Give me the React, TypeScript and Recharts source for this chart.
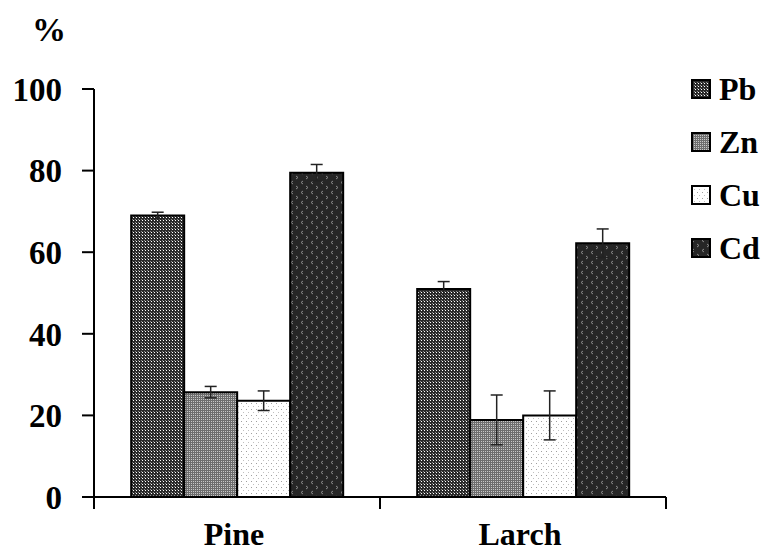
import React from 'react';
import { BarChart, Bar, XAxis, YAxis, ErrorBar } from 'recharts';

const categories = ['Pine', 'Larch'];
const metals = ['Pb', 'Zn', 'Cu', 'Cd'];
const pbValues = [69, 51];
const pbErrors = [0.8, 1.8];
const znValues = [25.7, 18.9];
const znErrors = [1.4, 6.1];
const cuValues = [23.6, 20];
const cuErrors = [2.4, 6];
const cdValues = [79.5, 62.2];
const cdErrors = [2, 3.5];
const yTicks = [0, 20, 40, 60, 80, 100];

const data = categories.map((c, i) => ({
  category: c,
  Pb: pbValues[i],
  PbErr: pbErrors[i],
  Zn: znValues[i],
  ZnErr: znErrors[i],
  Cu: cuValues[i],
  CuErr: cuErrors[i],
  Cd: cdValues[i],
  CdErr: cdErrors[i],
}));

const FONT = '"Liberation Serif", "Times New Roman", serif';

const XTick = (props: any) => {
  const { x, y, payload } = props;
  const half = payload && typeof payload.offset === 'number' ? payload.offset : 143;
  return (
    <g>
      <line x1={x - half} x2={x - half} y1={y} y2={y + 12} stroke="#000" strokeWidth={2} />
      <line x1={x + half} x2={x + half} y1={y} y2={y + 12} stroke="#000" strokeWidth={2} />
      <text
        x={x - 3}
        y={y + 48}
        textAnchor="middle"
        fontFamily={FONT}
        fontWeight="bold"
        fontSize={32}
        fill="#000"
      >
        {payload.value}
      </text>
    </g>
  );
};

const Patterns = () => (
  <defs>
    <pattern id="pat-Pb" width="3" height="3" patternUnits="userSpaceOnUse">
      <rect width="3" height="3" fill="#2a2a2a" />
      <rect x="1" y="1" width="1" height="1" fill="#ffffff" />
      <rect x="0" y="0" width="1" height="1" fill="#8a8a8a" />
    </pattern>
    <pattern id="pat-Zn" width="2" height="2" patternUnits="userSpaceOnUse">
      <rect width="2" height="2" fill="#6e6e6e" />
      <rect x="1" y="1" width="1" height="1" fill="#c8c8c8" />
    </pattern>
    <pattern id="pat-Cu" width="5" height="6" patternUnits="userSpaceOnUse">
      <rect width="5" height="6" fill="#ffffff" />
      <rect x="1" y="1" width="1" height="1" fill="#a0a0a0" />
      <rect x="3" y="4" width="1" height="1" fill="#c0c0c0" />
    </pattern>
    <pattern id="pat-Cd" width="10" height="10" patternUnits="userSpaceOnUse">
      <rect width="10" height="10" fill="#262626" />
      <path d="M3 1 L1 2.5 L3 4" stroke="#8a8a8a" strokeWidth="1" fill="none" />
      <path d="M6 6 L8 7.5 L6 9" stroke="#8a8a8a" strokeWidth="1" fill="none" />
    </pattern>
  </defs>
);

export default function App() {
  return (
    <div style={{ position: 'absolute', left: 0, top: 0, width: 766, height: 553, background: '#fff' }}>
      <BarChart
        width={766}
        height={553}
        data={data}
        margin={{ top: 89, right: 100, bottom: 0, left: 0 }}
        barCategoryGap="13%"
        barGap={0}
      >
        <Patterns />
        <XAxis
          dataKey="category"
          axisLine={{ stroke: '#000', strokeWidth: 2 }}
          tickLine={false}
          tickSize={0}
          tickMargin={0}
          tick={<XTick />}
          height={56}
          interval={0}
        />
        <YAxis
          width={94}
          domain={[0, 100]}
          ticks={yTicks}
          axisLine={{ stroke: '#000', strokeWidth: 2 }}
          tickLine={{ stroke: '#000', strokeWidth: 2 }}
          tickSize={12}
          tickMargin={20}
          tick={{ fontSize: 33, fontWeight: 'bold', fill: '#000', fontFamily: FONT }}
        />
        {metals.map((m) => (
          <Bar
            key={m}
            dataKey={m}
            fill={`url(#pat-${m})`}
            stroke="#000"
            strokeWidth={2}
            isAnimationActive={false}
          >
            <ErrorBar dataKey={`${m}Err`} width={6} stroke="#222" strokeWidth={1.5} direction="y" />
          </Bar>
        ))}
      </BarChart>
      <div
        style={{
          position: 'absolute',
          left: 32,
          top: 11,
          fontFamily: FONT,
          fontWeight: 'bold',
          fontSize: 34,
          lineHeight: '38px',
          color: '#000',
        }}
      >
        %
      </div>
      <div style={{ position: 'absolute', left: 691, top: 62, fontFamily: FONT }}>
        {metals.map((m) => (
          <div key={m} style={{ display: 'flex', alignItems: 'center', height: 53 }}>
            <svg width={20} height={20} style={{ display: 'block' }}>
              <rect x={1} y={1} width={18} height={18} fill={`url(#pat-${m})`} stroke="#000" strokeWidth={2} />
            </svg>
            <span style={{ marginLeft: 8, fontSize: 32, fontWeight: 'bold', color: '#000', lineHeight: '36px' }}>
              {m}
            </span>
          </div>
        ))}
      </div>
    </div>
  );
}
